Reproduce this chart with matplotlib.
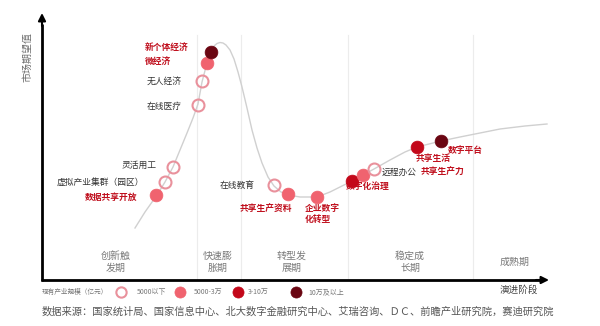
"""Digital economy hype-cycle chart: market expectation vs. evolution stage."""

import matplotlib

matplotlib.use("Agg")

import matplotlib.pyplot as plt

plt.rcParams["font.family"] = ["Noto Sans CJK SC", "DejaVu Sans"]

# Canvas units are pixels of the 600x326 figure (y grows downward).
WIDTH, HEIGHT = 600, 326

# Hype curve traced across the stages
curve_x = [135, 145, 157, 165, 173, 180, 187, 193, 198, 202, 207, 211, 214, 217,
           220, 223, 226, 230, 234, 238, 242, 247, 252, 257, 262, 268, 274, 281,
           288, 300, 317, 330, 340, 352, 363, 374, 390, 405, 417, 429, 441, 460,
           480, 500, 525, 547]
curve_y = [228, 212, 195, 182, 167, 150, 133, 118, 104, 82, 63, 52, 46, 43.5,
           42.5, 43, 45, 50, 59, 72, 87, 108, 130, 148, 163, 177, 186, 192,
           195, 197, 197, 192, 187, 181, 175, 169, 160, 152, 147, 144, 141, 137,
           133, 129, 126, 124]

# Industry positions on the curve; size class 0..3 by current scale
points_x = [156, 165, 173, 198, 202, 207, 211, 274, 288, 317, 352, 363, 374, 417, 441]
points_y = [195, 182, 167, 105, 81, 63, 52, 185, 194, 197, 181, 175, 169, 147, 141]
points_class = [1, 0, 0, 0, 0, 1, 3, 0, 1, 1, 2, 1, 0, 2, 3]

# Labels: text, x, y, horizontal alignment, highlighted
labels = [
    ("数据共享开放", 137, 197, "right", True),
    ("虚拟产业集群（园区）", 144, 182, "right", False),
    ("灵活用工", 157, 165, "right", False),
    ("在线医疗", 147, 106, "left", False),
    ("无人经济", 147, 81, "left", False),
    ("微经济", 145, 61, "left", True),
    ("新个体经济", 145, 47, "left", True),
    ("在线教育", 255, 185, "right", False),
    ("共享生产资料", 240, 209, "left", True),
    ("企业数字\n化转型", 305, 214, "left", True),
    ("数字化治理", 346, 186, "left", True),
    ("远程办公", 382, 172, "left", False),
    ("共享生产力", 421, 172, "left", True),
    ("共享生活", 416, 159, "left", True),
    ("数字平台", 448, 151, "left", True),
]

stage_names = ["创新触\n发期", "快速膨\n胀期", "转型发\n展期", "稳定成\n长期", "成熟期"]
stage_centers = [116, 218, 292, 410, 515]
stage_bounds = [197, 241, 348, 473]

class_names = ["5000以下", "5000-3万", "3-10万", "10万及以上"]
class_colors = ["#e9919c", "#f0636f", "#c3081a", "#6a0612"]

LABEL_RED = "#c0101e"
LABEL_DARK = "#333333"
CURVE_COLOR = "#d0d0d0"


def draw_marker(ax, x, y, cls, size):
    if cls == 0:
        ax.plot(x, y, "o", ms=size - 0.6, mfc="none", mec=class_colors[0],
                mew=1.5, zorder=4)
    else:
        ax.plot(x, y, "o", ms=size, mfc=class_colors[cls], mec=class_colors[cls],
                mew=0.5, zorder=4)


fig = plt.figure(figsize=(WIDTH / 100, HEIGHT / 100), dpi=100)
ax = fig.add_axes([0, 0, 1, 1])
ax.set_xlim(0, WIDTH)
ax.set_ylim(HEIGHT, 0)
ax.axis("off")

# stage dividers
for bx in stage_bounds:
    ax.plot([bx, bx], [35, 279], color="#ececec", lw=0.8, zorder=1)

for name, cx in zip(stage_names, stage_centers):
    ax.text(cx, 262, name, ha="center", va="center", fontsize=7.2,
            color="#7a7a7a", linespacing=1.25)

ax.plot(curve_x, curve_y, color=CURVE_COLOR, lw=1.0, zorder=2,
        solid_joinstyle="round")

for x, y, cls in zip(points_x, points_y, points_class):
    draw_marker(ax, x, y, cls, 9.2)

for text, x, y, ha, hot in labels:
    ax.text(x, y, text, ha=ha, va="center", fontsize=6.3,
            color=LABEL_RED if hot else LABEL_DARK,
            fontweight="bold" if hot else "normal", zorder=3,
            linespacing=1.2)

# axes arrows
ax.plot([42, 42], [281, 24], color="black", lw=2.0, solid_capstyle="butt", zorder=5)
ax.plot([41, 540], [280, 280], color="black", lw=2.0, solid_capstyle="butt", zorder=5)
ax.annotate("", xy=(42, 13), xytext=(42, 26),
            arrowprops=dict(arrowstyle="-|>", color="black", lw=1.5,
                            mutation_scale=11, shrinkA=0, shrinkB=0), zorder=5)
ax.annotate("", xy=(549, 280), xytext=(536, 280),
            arrowprops=dict(arrowstyle="-|>", color="black", lw=1.5,
                            mutation_scale=11, shrinkA=0, shrinkB=0), zorder=5)

ax.text(27, 57, "市场期望值", rotation=90, ha="center", va="center",
        fontsize=7.2, color="#6a6a6a")
ax.text(519, 290, "演进阶段", ha="center", va="center", fontsize=6.9,
        color="#444444")

# legend row
ax.text(42, 292, "现有产业规模（亿元）", ha="left", va="center", fontsize=4.8,
        color="#777777")
legend_marker_x = [121, 180, 238, 296]
legend_text_x = [137, 194, 248, 308]
for cls, (mx, tx) in enumerate(zip(legend_marker_x, legend_text_x)):
    draw_marker(ax, mx, 292, cls, 8.0)
    ax.text(tx, 292, class_names[cls], ha="left", va="center", fontsize=5.0,
            color="#777777")

ax.text(42, 312, "数据来源：国家统计局、国家信息中心、北大数字金融研究中心、艾瑞咨询、ＤＣ、前瞻产业研究院，赛迪研究院",
        ha="left", va="center", fontsize=7.4, color="#555555")

fig.savefig("out.png", dpi=100)
